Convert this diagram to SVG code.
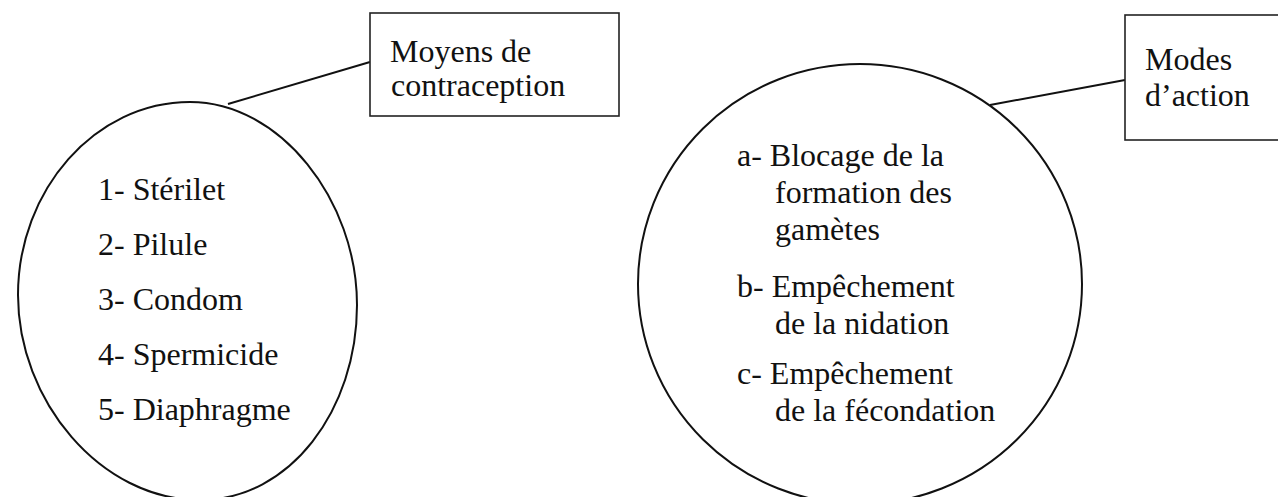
<svg xmlns="http://www.w3.org/2000/svg" width="1278" height="497" viewBox="0 0 1278 497">
<style>
.t{font-family:"Liberation Serif","Times New Roman","DejaVu Serif",serif;font-size:32px;fill:#111}
.sh{fill:none;stroke:#111;stroke-width:2}
.bx{fill:#fff;stroke:#222;stroke-width:1.6}
.cn{stroke:#111;stroke-width:2;fill:none}
</style>
<rect width="1278" height="497" fill="#fff"/>
<g id="connectors">
<line class="cn" x1="228" y1="104" x2="370" y2="62"/>
<line class="cn" x1="990" y1="105" x2="1125" y2="80"/>
</g>
<g id="moyens-ellipse">
<path class="sh" d="M190,102 C280,102 357,200 357,305 C357,410 290,500 200,500 C100,500 18,400 18,295 C18,190 95,102 190,102 Z"/>
<text class="t" x="98" y="200">1- Stérilet</text>
<text class="t" x="98" y="255">2- Pilule</text>
<text class="t" x="98" y="310">3- Condom</text>
<text class="t" x="98" y="365">4- Spermicide</text>
<text class="t" x="98" y="420">5- Diaphragme</text>
</g>
<g id="modes-ellipse">
<ellipse class="sh" cx="860" cy="284" rx="222" ry="220"/>
<text class="t" x="737" y="166">a- Blocage de la</text>
<text class="t" x="775" y="203">formation des</text>
<text class="t" x="775" y="240">gamètes</text>
<text class="t" x="737" y="297">b- Empêchement</text>
<text class="t" x="775" y="334">de la nidation</text>
<text class="t" x="737" y="384">c- Empêchement</text>
<text class="t" x="775" y="421">de la fécondation</text>
</g>
<g id="moyens-box">
<rect class="bx" x="370" y="13" width="249" height="103"/>
<text class="t" x="390" y="62">Moyens de</text>
<text class="t" x="391" y="96">contraception</text>
</g>
<g id="modes-box">
<rect class="bx" x="1125" y="15" width="160" height="125"/>
<text class="t" x="1145" y="70">Modes</text>
<text class="t" x="1145" y="106">d’action</text>
</g>
</svg>
